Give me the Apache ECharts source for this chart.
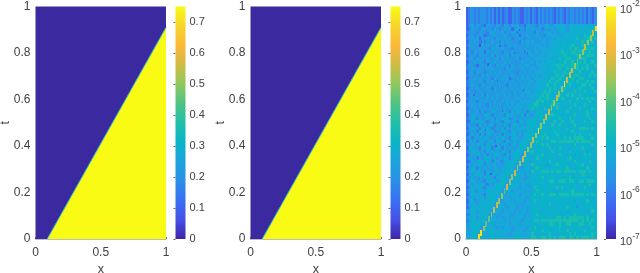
<!DOCTYPE html>
<html><head><meta charset="utf-8">
<style>html,body{margin:0;padding:0;background:#fff}#c{width:640px;height:273px;filter:blur(0.35px)}</style>
<script src="https://cdn.jsdelivr.net/npm/echarts@6/dist/echarts.min.js"></script>
</head><body><div id="c"></div>
<script>
const xTicks=[0,0.5,1];
const tTicks=[0,0.2,0.4,0.6,0.8,1];
const linearBarTicks=[0,0.1,0.2,0.3,0.4,0.5,0.6,0.7];
const linearBarMax=0.75;
const logBarTicks=[1e-7,1e-6,1e-5,1e-4,1e-3,1e-2];
const parula=['#3e26a8','#4650e8','#3a70f4','#2a90e8','#1aa4dc','#0ab4c8','#20bfa8','#50c484','#90c860','#d0bc44','#fbb83a','#f6d62a','#f9fb15'];
// solution panels: regions either side of the shock, in (x,t)
const leftRegion=[[0,0],[0.09,0],[1,0.91],[1,1],[0,1]];
const rightRegion=[[0.09,0],[1,0],[1,0.91]];
const shockEdge=[[0.09,0],[1,0.91]];
// error panel: hex level L in the field means error 10^(-7.25+L/3)
const errTopBandT=0.925;
const errTopBand='2344343444343'+'4242423422434'+'3224342432434'+'3434324343243'+'4434343424324';
const errRows=[
"3564654365546 5465465645366 5546566556676 6566766676766",
"3465546555465 4565535655465 6556456565667 6567677667678",
"4555465546655 5645566455556 5465566656566 7667667776877",
"3654555345565 5565455635565 5665546666656 6767777687787",
"4565635565546 5565645565456 5566565565767 6776786778878",
"3556546455655 4656555546565 6555665666767 7667767878786",
"4655526565556 5545656555565 5666565667667 7778776887777",
"3565565554656 5655546565655 5656666676767 6787887778787",
"4546556365565 5465565555466 5665666766778 7778878887876",
"3655465555646 5556465655656 6556656767677 8776788778887",
"4564655565556 4656555645565 5666676667787 7887777887677",
"3556565465565 5565655556556 6565667677677 8778778787787",
"4655356556546 5655465565665 5566676776878 7778887778678",
"4565565565655 5546565556556 6656666777787 7877787878776",
"3654655456565 6555655465656 5666676768776 8787778776787",
"4565546565556 5565565556565 6565677667878 7787887677878",
"3556565555465 5656355656566 5676667787787 7778778877767",
"4655565465656 5565565565656 6567667877877 6877787778787",
"4565546556555 6554656556566 5666778678776 7787677887876",
"3555655565465 5565565656565 6676677878767 8776778767787",
"4654565556565 5655556565666 5667787877678 7677877787678",
"3565556465556 5565656556566 6676878767787 6878768777776",
"4555655565656 5556556665656 6678778776878 7677786878787",
"3655465655565 5656565566666 6787877678767 7786777677877",
"4565565546565 6556565666567 7887767787867 7677876787676",
"3556555656556 5565656665677 8777687767867 6787768777787",
"4655646455765 5675465765646 6567766767777 7876777678767",
"3566555675465 6547665657465 5677767787776 7677867778676",
"4576465565746 5766457565676 6776767777787 6787776767877",
"3465766545656 5467656476567 7767677678678 7678767786787",
"4655475656645 6575467656567 7767776786787 7767876777676",
"3667546575456 5746575667776 7678777677776 7877778888787",
"4556476566745 5675476575667 7677767778777 7678767776767",
"3575646467565 6475667565677 7767787677867 7776878777877",
"4646575765556 5765476656677 7677868777777 8787888877787",
"3676466556746 6547657566776 7787767788788 8888787888877",
"4565766475656 5675467567765 6777878767776 7677867777687",
"3766546576456 6465755677666 7677767867787 7667776877767",
"4576656465766 5765476776576 8767777687676 7786777676776",
"3565765646576 6547567765667 7777867767787 7677676787877",
"4756465776565 6576467765676 6787767777677 6787776777767",
"3465676576476 5467677656675 7767777867777 7776877676876",
"4656766465675 6576776566766 8777676777867 7677777877777",
"3576465756566 5667765665676 6787767677777 7867677768767",
"4675665476567 5667765666575 8777888787887 8888878887877",
"3656776465765 6677656676566 7767777677767 7776767876777",
"4565675766546 6776566756656 7677867777677 6787776777677",
"3676565467675 6776566766676 7677767886788 8788778878887",
"4756667546567 7765666756656 7767776777677 7767767677877",
"3566765476667 7656676656665 6877767777868 7677767787767",
"4675576567677 6566756666566 7687777677677 7778776777677",
"3576665476776 7656676656675 7877877888788 8878888878787",
"4565767567776 5666566756656 7776777677767 7767767777677",
"3675567667765 6566665666566 7867777767777 6777677678767",
"4766576677656 7656666565666 7677767867777 7677776777776",
"3576767677656 6665676566656 7767777677677 7867767767777",
"5677576776566 6566665656756 7777676777767 7677777676787",
"4576667765666 5676656666566 6787777677776 7767877777677",
"5766567765665 6566566676566 7767767777887 8788888878777",
"4677677656766 6656667665666 7887888888888 8888887878787",
"5676776566756 6766566656676 7767777887787 7887778877877",
"5677765667665 6566756666656 7877677776787 7767777676787",
"6667765666766 6676656676566 7777867767777 6877777787777",
"6677656667767 6666566766666 8767777877677 7787877777787",
"6677777667776 7676767776767 8877887878788 8788787888787"];
const errRidgeX=[.995,.975,.955,.935,.915,.895,.875,.855,.835,.815,.795,.775,.755,.735,.715,.695,.675,.655,.635,.615,.595,.575,.555,.535,.515,.495,.475,.455,.435,.415,.395,.375,.355,.335,.315,.295,.275,.255,.235,.215,.195,.175,.155,.135,.115,.10];
const errRidgeT=[.905,.885,.865,.845,.825,.805,.785,.765,.745,.725,.705,.685,.665,.645,.625,.605,.585,.565,.545,.525,.505,.485,.465,.445,.425,.405,.385,.365,.345,.325,.305,.285,.265,.245,.225,.205,.185,.165,.145,.125,.105,.085,.065,.045,.025,.01];
const errRidgeLevel='ebaabaa9abbbeaabaabbaaeabaabbaabaab9aabba99aee';
// dark isolated cells in the error field: [x, t, level]
const errSpecks=[[.03,.88,2],[.12,.85,1],[.09,.8,2],[.2,.9,2],[.26,.83,1],[.34,.87,2],[.41,.9,1],[.31,.77,2],[.17,.75,1],[.05,.7,2],[.39,.72,2],[.47,.8,1],[.55,.86,2],[.6,.76,2],[.52,.7,3],[.24,.68,1],[.12,.64,2],[.35,.62,2],[.44,.64,1],[.02,.58,2],[.2,.58,2],[.28,.55,1],[.09,.52,2],[.4,.53,2],[.5,.58,3],[.63,.9,2],[.7,.83,3],[.58,.64,3],[.15,.47,1],[.32,.47,2],[.05,.42,2],[.23,.4,1],[.38,.38,2],[.11,.36,2],[.29,.33,2],[.02,.3,2],[.19,.28,1],[.13,.22,2],[.27,.2,3],[.07,.17,2],[.22,.1,3],[.36,.13,3],[.45,.26,2],[.54,.2,3],[.62,.32,2],[.7,.4,3],[.78,.48,3],[.84,.36,2],[.92,.25,3],[.75,.22,3],[.68,.12,3],[.85,.14,2],[.74,.06,3],[.95,.44,3],[.9,.6,3],[.82,.57,3],[.96,.73,3],[.88,.8,3],[.8,.9,3],[.66,.55,3],[.58,.42,3],[.48,.12,3],[.33,.05,3],[.57,.08,3],[.97,.1,3],[.06,.62,1],[.15,.9,2],[.25,.6,2],[.37,.8,1],[.46,.47,2],[.1,.26,2],[.42,.17,3],[.64,.72,3],[.73,.63,3],[.16,.12,3],[.04,.08,3],[.53,.33,3]];

const expo=h=>-7+parseInt(h,16)/3;
const cells=[];
const bandW=1/errTopBand.length;
[...errTopBand].forEach((h,i)=>cells.push([i*bandW,(i+1)*bandW,errTopBandT,1,expo(h)]));
const dt=errTopBandT/errRows.length;
errRows.forEach((row,r)=>{
  const s=row.replace(/ /g,''),w=1/s.length;
  [...s].forEach((h,i)=>cells.push([i*w,(i+1)*w,errTopBandT-(r+1)*dt,errTopBandT-r*dt,expo(h)-0.25]));
});
errSpecks.forEach(s=>cells.push([s[0]-.006,s[0]+.006,s[1]-.005,s[1]+.005,-7+s[2]/1.6]));
const ridgeCells=errRidgeX.map((x,i)=>[x-.007,x+.007,errRidgeT[i]-.0125,errRidgeT[i]+.0125,expo(errRidgeLevel[i])]);

const axisCol='#404040', lineCol='#a8a8a8';
const plotW=130.5, plotTop=6.5, plotH=232.5, barW=10;
const panels=[{left:35.5,bar:175.5},{left:250.5,bar:390.5},{left:466,bar:606}];
const grids=[],xAxes=[],yAxes=[],series=[];

function rectCell(params,api){
  const a=api.coord([api.value(0),api.value(3)]),b=api.coord([api.value(1),api.value(2)]);
  const x0=Math.round(a[0]),y0=Math.round(a[1]),x1=Math.round(b[0]),y1=Math.round(b[1]);
  return {type:'rect',shape:{x:x0,y:y0,width:Math.max(1,x1-x0),height:Math.max(1,y1-y0)},style:{fill:api.visual('color')}};
}
function poly(points,color,g){
  return {type:'custom',xAxisIndex:g,yAxisIndex:g,coordinateSystem:'cartesian2d',data:[[points[0][0],points[0][1]]],silent:true,
    renderItem:(p,api)=>({type:'polygon',shape:{points:points.map(q=>api.coord(q))},style:{fill:color}})};
}
panels.forEach((p,i)=>{
  const g=grids.length;
  grids.push({left:p.left,top:plotTop,width:plotW,height:plotH,containLabel:false,outerBoundsMode:'none'});
  xAxes.push({gridIndex:g,type:'value',min:0,max:1,interval:0.5,name:'x',nameLocation:'middle',nameGap:24,nameMoveOverlap:false,
    nameTextStyle:{fontFamily:'Liberation Sans',fontSize:12.5,color:axisCol},
    axisLine:{show:true,lineStyle:{color:lineCol,width:1.5}},axisTick:{show:true,inside:true,length:2,lineStyle:{color:'#777'}},
    splitLine:{show:false},axisLabel:{customValues:xTicks,fontFamily:'Liberation Sans',fontSize:12,color:axisCol,margin:8}});
  yAxes.push({gridIndex:g,type:'value',min:0,max:1,interval:0.2,name:'t',nameLocation:'middle',nameGap:23,nameMoveOverlap:false,
    nameTextStyle:{fontFamily:'Liberation Sans',fontSize:12.5,color:axisCol},
    axisLine:{show:false},axisTick:{show:false},splitLine:{show:false},
    axisLabel:{customValues:tTicks,fontFamily:'Liberation Sans',fontSize:12,color:axisCol,margin:5}});
  const b=grids.length;
  grids.push({left:p.bar,top:plotTop,width:barW,height:plotH,containLabel:false,outerBoundsMode:'none'});
  xAxes.push({gridIndex:b,type:'value',min:0,max:1,show:false});
  const isLog=i===2;
  yAxes.push(isLog?{gridIndex:b,type:'log',logBase:10,min:1e-7,max:1e-2,position:'right',
      axisLine:{show:false},axisTick:{show:true,inside:true,length:2,lineStyle:{color:'#666'},customValues:logBarTicks},splitLine:{show:false},minorTick:{show:false},
      axisLabel:{customValues:logBarTicks,margin:4,color:axisCol,fontFamily:'Liberation Sans',
        formatter:v=>'{b|10}{s|'+Math.round(Math.log10(v))+'}',
        rich:{b:{fontFamily:'Liberation Sans',fontSize:11,color:axisCol,padding:[6,0,0,0]},s:{fontFamily:'Liberation Sans',fontSize:8.5,color:axisCol,padding:[0,0,5,0]}}}}
    :{gridIndex:b,type:'value',min:0,max:linearBarMax,position:'right',
      axisLine:{show:false},axisTick:{show:true,inside:true,length:2,lineStyle:{color:'#666'},customValues:linearBarTicks},splitLine:{show:false},
      axisLabel:{customValues:linearBarTicks,margin:4,fontFamily:'Liberation Sans',fontSize:11,color:axisCol}});
  const lo=isLog?1e-7:0,hi=isLog?1e-2:linearBarMax;
  series.push({type:'custom',xAxisIndex:b,yAxisIndex:b,coordinateSystem:'cartesian2d',z:1,silent:true,data:[[0,lo],[1,hi]],
    renderItem:(pp,api)=>{
      if(pp.dataIndex>0)return null;
      const a=api.coord([0,hi]),c=api.coord([1,lo]);
      return {type:'rect',shape:{x:a[0],y:a[1],width:c[0]-a[0],height:c[1]-a[1]},
        style:{fill:new echarts.graphic.LinearGradient(0,1,0,0,parula.map((col,k)=>({offset:k/(parula.length-1),color:col})))}};
    }});
  if(i<2){
    series.push(poly(leftRegion,'#3b2a9f',g));
    series.push(poly(rightRegion,'#f9fb15',g));
    series.push({type:'line',xAxisIndex:g,yAxisIndex:g,data:shockEdge,showSymbol:false,silent:true,z:3,lineStyle:{color:'#2fb4c4',width:1}});
  }else{
    series.push({type:'custom',xAxisIndex:g,yAxisIndex:g,coordinateSystem:'cartesian2d',clip:true,silent:true,encode:{x:[0,1],y:[2,3]},data:cells,renderItem:rectCell,progressive:0});
    series.push({type:'custom',xAxisIndex:g,yAxisIndex:g,coordinateSystem:'cartesian2d',clip:true,silent:true,z:3,encode:{x:[0,1],y:[2,3]},data:ridgeCells,renderItem:rectCell,progressive:0});
  }
});
const errSeries=series.map((s,i)=>s.data===cells||s.data===ridgeCells?i:-1).filter(i=>i>=0);
const chart=echarts.init(document.getElementById('c'),null,{renderer:'canvas'});
chart.setOption({animation:false,backgroundColor:'#fff',grid:grids,xAxis:xAxes,yAxis:yAxes,series,
  visualMap:[{show:false,type:'continuous',seriesIndex:errSeries,dimension:4,min:-7,max:-2,inRange:{color:parula}}]});
</script></body></html>
